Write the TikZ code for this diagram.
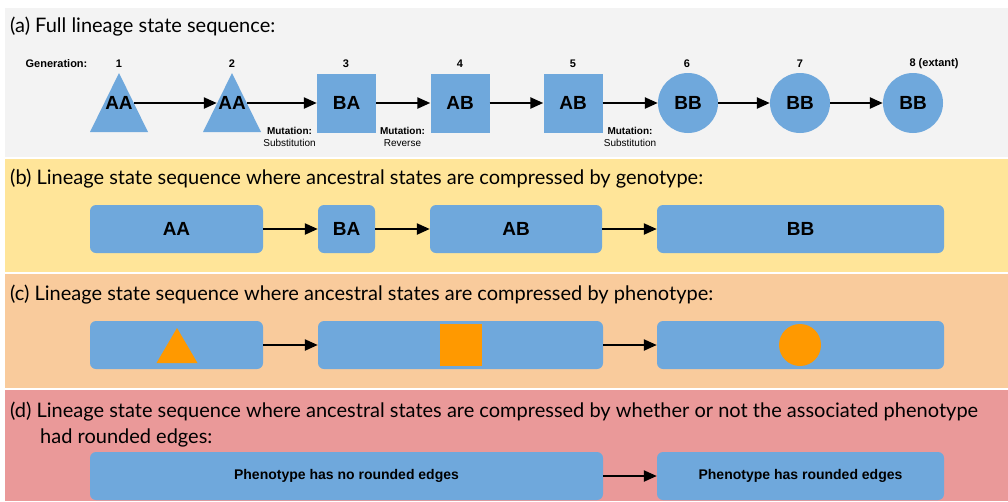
\documentclass[tikz,border=0pt]{standalone}
\usepackage{fontspec}
\setmainfont{Lato}
\newfontfamily\arialfont{Liberation Sans}
\usetikzlibrary{arrows.meta,positioning,calc}
\definecolor{panelA}{HTML}{F3F3F3}
\definecolor{panelB}{HTML}{FFE599}
\definecolor{panelC}{HTML}{F9CB9C}
\definecolor{panelD}{HTML}{EA9999}
\definecolor{state}{HTML}{6FA8DC}
\definecolor{pheno}{HTML}{FF9900}
\tikzset{
  >={Triangle[length=13pt,width=11pt]},
  heading/.style={anchor=base west,inner sep=0pt,font=\fontsize{20}{24}\selectfont},
  genlabel/.style={inner sep=0pt,font=\arialfont\bfseries\fontsize{11}{13}\selectfont},
  mutlabel/.style={inner sep=0pt,align=center,font=\arialfont\fontsize{10}{12.5}\selectfont},
  statefont/.style={font=\arialfont\bfseries\fontsize{19}{22}\selectfont},
  tristate/.style={statefont,minimum width=30pt,minimum height=20pt,inner sep=0pt},
  sqstate/.style={statefont,fill=state,minimum size=59pt,inner sep=0pt},
  circstate/.style={statefont,circle,fill=state,minimum size=60pt,inner sep=0pt},
  seqbox/.style={statefont,fill=state,rounded corners=6pt,minimum height=48pt,inner sep=0pt},
  phenobox/.style={seqbox,font=\arialfont\bfseries\fontsize{14}{16}\selectfont},
  arrow/.style={->,line width=2.3pt,draw=black},
}

\begin{document}
\begin{tikzpicture}[x=1pt,y=-1pt]
\useasboundingbox (0,0) rectangle (1008,501);
\fill[white] (0,0) rectangle (1008,501);

% panels
\fill[panelA] (5,8) rectangle (1008,157);
\fill[panelB] (5,159) rectangle (1008,272);
\fill[panelC] (5,274) rectangle (1008,388);
\fill[panelD] (5,390) rectangle (1008,501);

\node[heading] (ta) at (10,32) {(a) Full lineage state sequence:};
\node[heading] (tb) at (10,184) {(b) Lineage state sequence where ancestral states are compressed by genotype:};
\node[heading] (tc) at (10,300) {(c) Lineage state sequence where ancestral states are compressed by phenotype:};
\node[heading] (td) at (10,417) {(d) Lineage state sequence where ancestral states are compressed by whether or not the associated phenotype};
\node[heading] (td2) at (40,443) {had rounded edges:};

% (a) full sequence
\foreach \x in {119,232}
  \fill[state] (\x,73) -- (\x+29,132) -- (\x-29,132) -- cycle;
\node[tristate] (g1) at (119,103) {AA};
\node[tristate] (g2) at (232,103) {AA};
\node[sqstate] (g3) at (346.5,103) {BA};
\node[sqstate] (g4) at (460,103) {AB};
\node[sqstate] (g5) at (573,103) {AB};
\node[circstate] (g6) at (688,103) {BB};
\node[circstate] (g7) at (800,103) {BB};
\node[circstate] (g8) at (913,103) {BB};

\node[genlabel] (gen) at (56.5,64) {Generation:};
\foreach \x/\n in {119/1,232/2,346/3,460/4,573/5,687/6,800/7,934/8 (extant)}
  \node[genlabel] (gen\x) at (\x,64) {\n};

\node[mutlabel] (mut1) at (289.5,137) {\textbf{Mutation:}\\Substitution};
\node[mutlabel] (mut2) at (402.5,137) {\textbf{Mutation:}\\Reverse};
\node[mutlabel] (mut3) at (630,137) {\textbf{Mutation:}\\Substitution};

\foreach \a/\b in {g1/g2,g2/g3,g3/g4,g4/g5,g5/g6,g6/g7,g7/g8}
  \draw[arrow] (\a) -- (\b);

% (b) by genotype
\node[seqbox,minimum width=173pt] (bAA) at (176.5,229) {AA};
\node[seqbox,minimum width=57pt] (bBA) at (346.5,229) {BA};
\node[seqbox,minimum width=172pt] (bAB) at (516,229) {AB};
\node[seqbox,minimum width=287pt] (bBB) at (800.5,229) {BB};
\draw[arrow] (bAA) -- (bBA);
\draw[arrow] (bBA) -- (bAB);
\draw[arrow] (bAB) -- (bBB);

% (c) by phenotype
\node[seqbox,minimum width=173pt] (cTri) at (176.5,345) {};
\node[seqbox,minimum width=285pt] (cSq) at (460.5,345) {};
\node[seqbox,minimum width=287pt] (cCirc) at (800.5,345) {};
\fill[pheno] ($(cTri.center)+(0.5,-17)$) -- ++(20.5,35) -- ++(-41,0) -- cycle;
\fill[pheno] (439.5,324) rectangle (481.5,366);
\fill[pheno] (800,345) circle (21);
\draw[arrow] (cTri) -- (cSq);
\draw[arrow] (cSq) -- (cCirc);

% (d) by rounded edges
\node[phenobox,minimum width=513pt] (dNo) at (346.5,476) {Phenotype has no rounded edges};
\node[phenobox,minimum width=287pt] (dYes) at (800.5,476) {Phenotype has rounded edges};
\draw[arrow] (dNo) -- (dYes);

\end{tikzpicture}
\end{document}
